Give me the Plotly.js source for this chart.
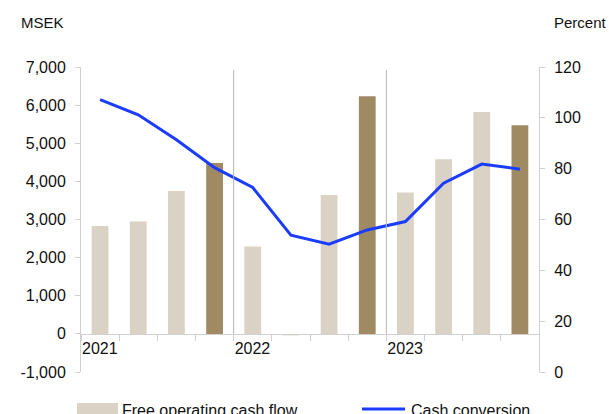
<!DOCTYPE html>
<html>
<head>
<meta charset="utf-8">
<script src="https://cdn.plot.ly/plotly-3.0.1.min.js"></script>
<style>
  html, body { margin: 0; padding: 0; background: #fff; }
  #chart { width: 609px; height: 414px; }
</style>
</head>
<body>
<div id="chart"></div>
<script>
// quarters 2021 Q1 .. 2023 Q4
var quarters = ['Q1 2021', 'Q2 2021', 'Q3 2021', 'Q4 2021',
                'Q1 2022', 'Q2 2022', 'Q3 2022', 'Q4 2022',
                'Q1 2023', 'Q2 2023', 'Q3 2023', 'Q4 2023'];
var years = ['2021', '2022', '2023'];

// free operating cash flow, MSEK
var cashFlow = [2830, 2950, 3750, 4480, 2290, -40, 3640, 6230, 3710, 4580, 5820, 5470];
// cash conversion, percent
var conversion = [107.2, 101.2, 91.4, 80.4, 72.6, 53.8, 50.3, 55.9, 59.2, 74.3, 81.8, 79.8];

var names = ['Free operating cash flow', 'Cash conversion'];
var lightBar = '#dad2c4', darkBar = '#a08a64', blue = '#1a3cff';
var axisGrey = '#d0d0d0';
var font = 'Liberation Sans, Arial, sans-serif';

var xs = quarters.map(function (q, i) { return i; });
// Q4 bars are darker
var barColors = quarters.map(function (q) { return q.indexOf('Q4') === 0 ? darkBar : lightBar; });

var bars = {
  type: 'bar', name: names[0],
  x: xs, y: cashFlow,
  width: 0.44,
  marker: {color: barColors},
  yaxis: 'y', showlegend: false,
  hoverinfo: 'skip'
};

var line = {
  type: 'scatter', mode: 'lines', name: names[1],
  x: xs, y: conversion,
  line: {color: blue, width: 3},
  yaxis: 'y2', showlegend: false,
  hoverinfo: 'skip'
};

// x ticks at quarter boundaries, year label at the first quarter of each year
var tickVals = [], tickText = [];
for (var i = 0; i <= quarters.length; i++) {
  tickVals.push(i - 0.5);
  tickText.push(i % 4 === 0 && i / 4 < years.length ? years[i / 4] : '');
}

var leftTicks = [];
for (var v = -1000; v <= 7000; v += 1000) leftTicks.push(v);

// plot area in pixels: left 81, right 539, top 67, bottom 372
var L = 81, R = 539, T = 67, B = 372;
function px(x) { return (x - L) / (R - L); }
function py(y) { return (B - y) / (B - T); }

var shapes = [];
// year separators
[4, 8].forEach(function (k) {
  shapes.push({type: 'line', xref: 'x', yref: 'y', x0: k - 0.5, x1: k - 0.5, y0: 0, y1: 6920,
               line: {color: '#b4b4b4', width: 1}});
});
// hand-drawn legend
shapes.push({type: 'rect', xref: 'paper', yref: 'paper', x0: px(77), x1: px(118), y0: py(403), y1: py(416),
             fillcolor: lightBar, line: {width: 0}});
shapes.push({type: 'line', xref: 'paper', yref: 'paper', x0: px(362), x1: px(405), y0: py(409), y1: py(409),
             line: {color: blue, width: 3}});

var annotations = [
  {text: 'MSEK', xref: 'paper', yref: 'paper', x: px(19), y: py(22), xanchor: 'left', yanchor: 'middle',
   showarrow: false, font: {size: 15, color: '#111'}},
  {text: 'Percent', xref: 'paper', yref: 'paper', x: px(552), y: py(22), xanchor: 'left', yanchor: 'middle',
   showarrow: false, font: {size: 15, color: '#111'}},
  {text: names[0], xref: 'paper', yref: 'paper', x: px(120), y: py(410), xanchor: 'left', yanchor: 'middle',
   showarrow: false, font: {size: 16, color: '#111'}},
  {text: names[1], xref: 'paper', yref: 'paper', x: px(409), y: py(410), xanchor: 'left', yanchor: 'middle',
   showarrow: false, font: {size: 16, color: '#111'}}
];

var layout = {
  width: 609, height: 414,
  margin: {l: L, r: 609 - R, t: T, b: 414 - B, pad: 0},
  paper_bgcolor: '#fff', plot_bgcolor: '#fff',
  font: {family: font, size: 16, color: '#111'},
  showlegend: false,
  xaxis: {
    range: [-0.5, quarters.length - 0.5],
    tickvals: tickVals, ticktext: tickText,
    ticks: 'outside', ticklen: 6, tickcolor: axisGrey,
    ticklabelposition: 'outside right',
    showline: true, linecolor: axisGrey, linewidth: 1,
    showgrid: false, zeroline: false,
    anchor: 'free', position: 0.125,
    fixedrange: true
  },
  yaxis: {
    range: [-1000, 7000],
    tickvals: leftTicks,
    ticktext: leftTicks.map(function (t) { return t.toLocaleString('en-US'); }),
    ticks: 'outside', ticklen: 5, tickcolor: axisGrey,
    showline: true, linecolor: axisGrey,
    showgrid: false, zeroline: false,
    ticklabelstandoff: 6,
    fixedrange: true
  },
  yaxis2: {
    overlaying: 'y', side: 'right',
    range: [0, 120], dtick: 20,
    ticks: 'outside', ticklen: 5, tickcolor: axisGrey,
    showline: true, linecolor: axisGrey,
    showgrid: false, zeroline: false,
    ticklabelstandoff: 6,
    fixedrange: true
  },
  shapes: shapes,
  annotations: annotations
};

Plotly.newPlot('chart', [bars, line], layout, {displayModeBar: false, staticPlot: true});
</script>
</body>
</html>
